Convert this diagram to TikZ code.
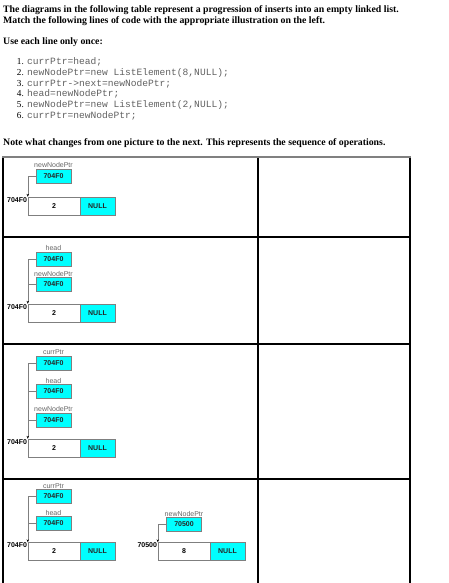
\documentclass[tikz,border=0pt]{standalone}
\usepackage{fontspec}
\setmainfont{Liberation Serif}
\newfontfamily\arialf{Liberation Sans}
\newfontfamily\monof{Liberation Mono}
\usetikzlibrary{arrows.meta}
\definecolor{boxcyan}{HTML}{00FFFF}
\definecolor{codegray}{HTML}{606060}
\definecolor{edgegray}{HTML}{7F7F7F}
\tikzset{
 ptrbox/.style={draw=edgegray, fill=boxcyan, minimum width=35pt, minimum height=14pt, inner sep=0pt, font=\arialf\bfseries\fontsize{7}{8}\selectfont, text=black!85},
 datacell/.style={draw=edgegray, fill=white, minimum width=52pt, minimum height=18pt, inner sep=0pt, font=\arialf\bfseries\fontsize{7}{8}\selectfont},
 nextcell/.style={draw=edgegray, fill=boxcyan, minimum width=35pt, minimum height=18pt, inner sep=0pt, font=\arialf\bfseries\fontsize{7}{8}\selectfont, text=black!85},
 varlbl/.style={font=\arialf\fontsize{7}{8}\selectfont, text=black!60, inner sep=0.6pt, anchor=south},
 addrlbl/.style={font=\arialf\bfseries\fontsize{7}{8}\selectfont, inner sep=0.6pt, anchor=north east},
 conn/.style={draw=edgegray, line width=0.6pt},
 arr/.style={-{Stealth[length=3pt,width=2.5pt,black]}},
 gridline/.style={line width=1.2pt},
 hdr/.style={font=\bfseries\fontsize{9.8}{11}\selectfont, anchor=base west, inner sep=0pt},
 num/.style={font=\fontsize{9.2}{10}\selectfont, anchor=base east, inner sep=0pt},
 code/.style={font=\monof\fontsize{9.6}{11}\selectfont, text=codegray, anchor=base west, inner sep=0pt},
}
\begin{document}
\begin{tikzpicture}[x=1pt,y=-1pt]
\useasboundingbox (0,0) rectangle (448,583);
% header text
\node[hdr] (t1) at (3,12.5) {The diagrams in the following table represent a progression of inserts into an empty linked list.};
\node[hdr] (t2) at (3,24) {Match the following lines of code with the appropriate illustration on the left.};
\node[hdr] (t3) at (3,45) {Use each line only once:};
\node[num] (n1) at (24,65) {1.};
\node[code] (c1) at (27,65) {currPtr=head;};
\node[num] (n2) at (24,76) {2.};
\node[code] (c2) at (27,76) {newNodePtr=new ListElement(8,NULL);};
\node[num] (n3) at (24,86.5) {3.};
\node[code] (c3) at (27,86.5) {currPtr->next=newNodePtr;};
\node[num] (n4) at (24,97) {4.};
\node[code] (c4) at (27,97) {head=newNodePtr;};
\node[num] (n5) at (24,108) {5.};
\node[code] (c5) at (27,108) {newNodePtr=new ListElement(2,NULL);};
\node[num] (n6) at (24,119) {6.};
\node[code] (c6) at (27,119) {currPtr=newNodePtr;};
\node[hdr] (t4) at (3,146) {Note what changes from one picture to the next. This represents the sequence of operations.};
% table
\draw[gridline] (3,237) -- (410,237);
\draw[gridline] (3,344) -- (410,344);
\draw[gridline] (3,479) -- (410,479);
\draw[gridline] (3,157) -- (3,583);
\draw[gridline] (258,157) -- (258,583);
\draw[gridline] (410,157) -- (410,583);
\draw[gridline, draw=gray] (2.4,157) -- (410.6,157);
% row 1
\node[ptrbox] (r1p) at (53.5,176) {704F0};
\node[varlbl] (r1pl) at (r1p.north) {newNodePtr};
\node[datacell] (r1d) at (54,206) {2};
\node[nextcell] (r1n) at (97.5,206) {NULL};
\node[addrlbl] (r1a) at (r1d.north west) {704F0};
\draw[conn,arr] (r1p.west) -| (r1d.north west);
% row 2
\node[ptrbox] (r2h) at (53.5,259) {704F0};
\node[varlbl] (r2hl) at (r2h.north) {head};
\node[ptrbox] (r2p) at (53.5,284.5) {704F0};
\node[varlbl] (r2pl) at (r2p.north) {newNodePtr};
\node[datacell] (r2d) at (54,313) {2};
\node[nextcell] (r2n) at (97.5,313) {NULL};
\node[addrlbl] (r2a) at (r2d.north west) {704F0};
\draw[conn,arr] (r2h.west) -| (r2d.north west);
\draw[conn] (r2p.west) -- (r2p.west -| r2d.north west);
% row 3
\node[ptrbox] (r3c) at (53.5,363) {704F0};
\node[varlbl] (r3cl) at (r3c.north) {currPtr};
\node[ptrbox] (r3h) at (53.5,391.5) {704F0};
\node[varlbl] (r3hl) at (r3h.north) {head};
\node[ptrbox] (r3p) at (53.5,420) {704F0};
\node[varlbl] (r3pl) at (r3p.north) {newNodePtr};
\node[datacell] (r3d) at (54,448) {2};
\node[nextcell] (r3n) at (97.5,448) {NULL};
\node[addrlbl] (r3a) at (r3d.north west) {704F0};
\draw[conn,arr] (r3c.west) -| (r3d.north west);
\draw[conn] (r3h.west) -- (r3h.west -| r3d.north west);
\draw[conn] (r3p.west) -- (r3p.west -| r3d.north west);
% row 4
\node[ptrbox] (r4c) at (53.5,496.5) {704F0};
\node[varlbl] (r4cl) at (r4c.north) {currPtr};
\node[ptrbox] (r4h) at (53.5,523.5) {704F0};
\node[varlbl] (r4hl) at (r4h.north) {head};
\node[datacell] (r4d) at (54,551.5) {2};
\node[nextcell] (r4n) at (97.5,551.5) {NULL};
\node[addrlbl] (r4a) at (r4d.north west) {704F0};
\draw[conn,arr] (r4c.west) -| (r4d.north west);
\draw[conn] (r4h.west) -- (r4h.west -| r4d.north west);
\node[ptrbox] (r4p) at (184,524.5) {70500};
\node[varlbl] (r4pl) at (r4p.north) {newNodePtr};
\node[datacell] (r4d2) at (184,551.5) {8};
\node[nextcell] (r4n2) at (227.5,551.5) {NULL};
\node[addrlbl] (r4a2) at (r4d2.north west) {70500};
\draw[conn,arr] (r4p.west) -| (r4d2.north west);
\end{tikzpicture}
\end{document}
